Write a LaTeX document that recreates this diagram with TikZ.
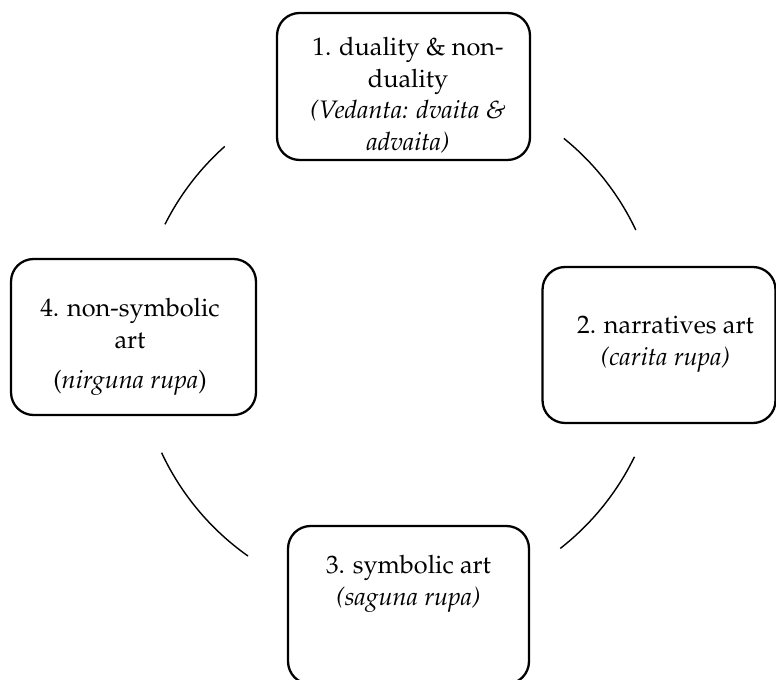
\documentclass[tikz,border=0pt]{standalone}
\usepackage[T1]{fontenc}
\usepackage{mathpazo}
\usetikzlibrary{positioning}
\tikzset{
  card/.style={rectangle, rounded corners=0.45cm, draw=black,
               line width=1.3pt, inner sep=0pt},
  cardtext/.style={anchor=north, align=center, inner sep=0pt,
                   font=\fontsize{14.4}{18}\selectfont},
  cycleline/.style={line width=0.8pt, black},
}

\begin{document}
\begin{tikzpicture}[x=0.02cm,y=0.02cm]
  \useasboundingbox (0,0) rectangle (776,679);
  % Stage boxes
  \node[card, minimum width=5.06cm, minimum height=2.94cm] (duality) at (403.5,592.5) {};
  \node[card, minimum width=4.66cm, minimum height=3.12cm] (narrative) at (659,334) {};
  \node[card, minimum width=4.82cm, minimum height=3.16cm] (symbolic) at (408.5,74) {};
  \node[card, minimum width=4.90cm, minimum height=3.12cm] (nonsymbolic) at (133.5,342) {};
  % Box texts
  \node[cardtext, below=0.50cm of duality.north, xshift=0.09cm] (dualitytext)
    {1. duality \& non-\\duality\\\textit{(Vedanta: dvaita \&}\\\textit{advaita)}};
  \node[cardtext, below=1.0cm of narrative.north, xshift=0.13cm] (narrativetext)
    {2. narratives art\\\textit{(carita rupa)}};
  \node[cardtext, below=0.60cm of symbolic.north] (symbolictext)
    {3. symbolic art\\\textit{(saguna rupa)}};
  \node[cardtext, below=0.80cm of nonsymbolic.north, xshift=-0.07cm] (nonsymbolictext)
    {4. non-symbolic\\art\\[0.18cm](\textit{nirguna rupa})};
  % Cycle arcs
  \coordinate (hub) at (399,337);
  \draw[cycleline] (hub) ++(25.3:5.24cm) arc[start angle=25.3, end angle=51, radius=5.24cm];
  \draw[cycleline] (hub) ++(131.7:5.24cm) arc[start angle=131.7, end angle=153.3, radius=5.24cm];
  \draw[cycleline] (hub) ++(205:5.24cm) arc[start angle=205, end angle=234.8, radius=5.24cm];
  \draw[cycleline] (hub) ++(-52:5.24cm) arc[start angle=-52, end angle=-26, radius=5.24cm];
\end{tikzpicture}
\end{document}
